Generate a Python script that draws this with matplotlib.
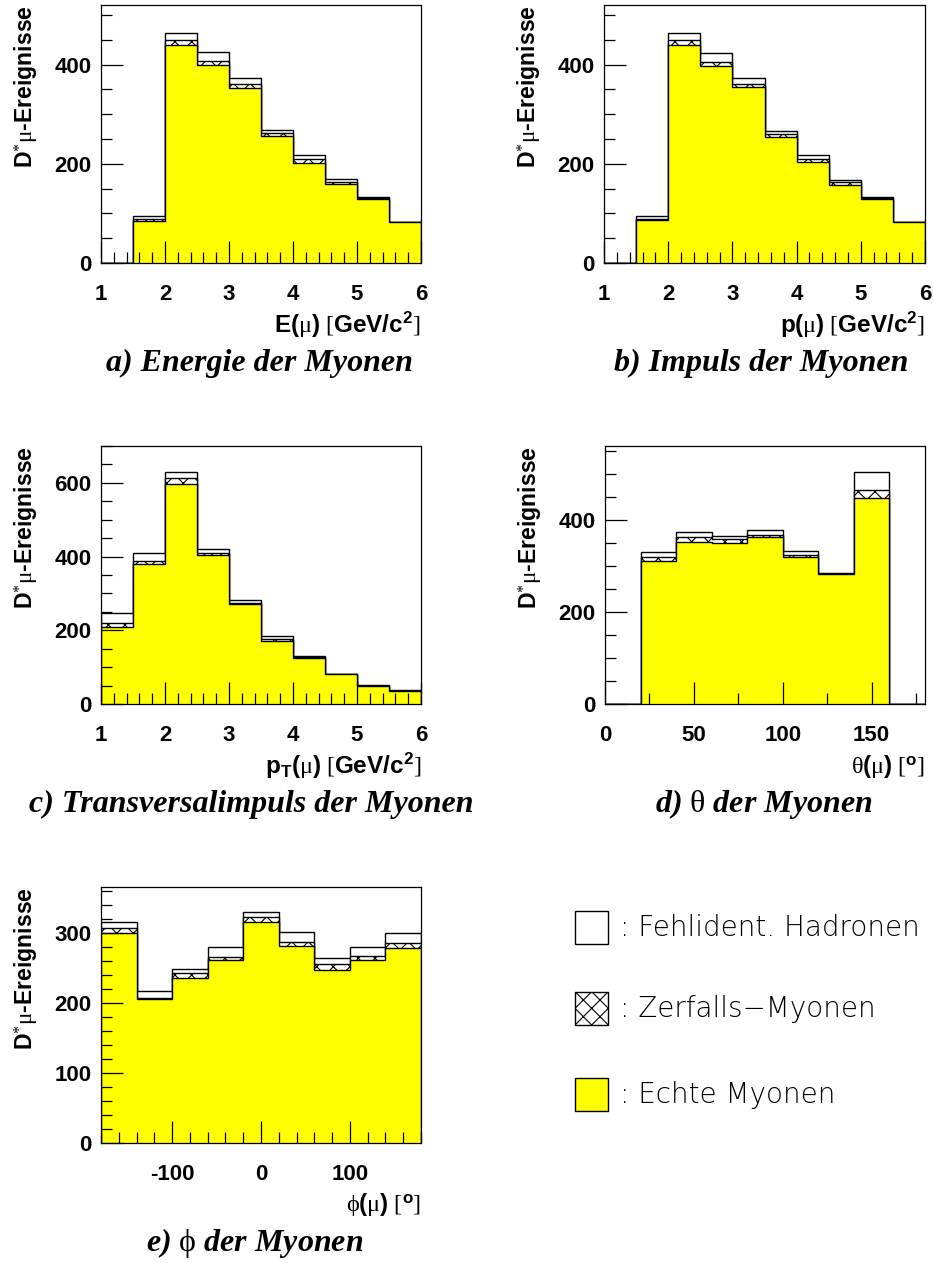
import numpy as np
import matplotlib
matplotlib.use('Agg')
import matplotlib.pyplot as plt
from matplotlib.ticker import MultipleLocator
from matplotlib.patches import Rectangle

plt.rcParams['font.family'] = ['Liberation Sans', 'DejaVu Sans']
plt.rcParams['font.weight'] = 'bold'
plt.rcParams['axes.unicode_minus'] = False
plt.rcParams['mathtext.fontset'] = 'custom'
plt.rcParams['mathtext.rm'] = 'Liberation Serif:weight=normal'
plt.rcParams['mathtext.bf'] = 'Liberation Sans:bold'
plt.rcParams['mathtext.it'] = 'Liberation Serif:italic:weight=normal'
plt.rcParams['hatch.linewidth'] = 0.8

# ---------------- data (counts per bin) ----------------
# a) Energie
edges_E = np.linspace(1, 6, 11)
echte_E = np.array([0, 85, 440, 399, 353, 256, 202, 160, 128, 83])
zerf_E = np.array([0, 4, 10, 8, 7, 6, 7, 4, 3, 0])
fehl_E = np.array([0, 5, 14, 19, 12, 6, 9, 6, 3, 0])

# b) Impuls
edges_p = np.linspace(1, 6, 11)
echte_p = np.array([0, 86, 440, 397, 354, 254, 204, 158, 128, 83])
zerf_p = np.array([0, 3, 10, 9, 6, 6, 6, 5, 3, 0])
fehl_p = np.array([0, 6, 14, 18, 12, 7, 8, 5, 3, 0])

# c) Transversalimpuls
edges_pt = np.linspace(1, 6, 11)
echte_pt = np.array([210, 379, 596, 405, 271, 172, 125, 81, 49, 34])
zerf_pt = np.array([11, 9, 18, 6, 4, 5, 3, 0, 1, 1])
fehl_pt = np.array([26, 23, 15, 9, 6, 8, 3, 0, 2, 2])

# d) theta
edges_th = np.linspace(0, 180, 10)
echte_th = np.array([0, 311, 351, 349, 362, 320, 283, 447, 0])
zerf_th = np.array([0, 9, 11, 10, 5, 3, 0, 18, 0])
fehl_th = np.array([0, 10, 11, 6, 10, 10, 2, 39, 0])

# e) phi
edges_ph = np.linspace(-180, 180, 10)
echte_ph = np.array([300, 206, 235, 261, 315, 281, 246, 261, 278])
zerf_ph = np.array([6, 1, 7, 4, 7, 6, 9, 6, 7])
fehl_ph = np.array([9, 10, 6, 15, 7, 14, 9, 13, 14])

legend_labels = [': Fehlident. Hadronen', ': Zerfalls\u2212Myonen', ': Echte Myonen']

YLAB = r"D$^{*}\mathrm{\mu}$-Ereignisse"
GEV = r"\ \mathrm{[}\mathbf{GeV/c^{2}}\mathrm{]}$"
DEG = r"\ \mathrm{[}^{\mathbf{o}}\mathrm{]}$"
YELLOW = '#ffff00'
HATCH = 'xx'

W, H = 933, 1263
fig = plt.figure(figsize=(W / 100, H / 100), dpi=100)


def px_axes(left, top, right, bottom):
    return fig.add_axes([left / W, 1 - bottom / H, (right - left) / W, (bottom - top) / H])


def draw_panel(ax, edges, echte, zerf, fehl, ymax, ymaj, ymin, xmaj, xmin,
               xtitle, caption, cap_x=0.5):
    hatch_top = echte + zerf
    total = hatch_top + fehl
    ax.stairs(total, edges, fill=True, facecolor='white', edgecolor='black', lw=1.0)
    ax.stairs(hatch_top, edges, fill=True, facecolor='white', edgecolor='black',
              hatch=HATCH, lw=1.0)
    ax.stairs(echte, edges, fill=True, facecolor=YELLOW, edgecolor='black', lw=1.0)

    ax.set_xlim(edges[0], edges[-1])
    ax.set_ylim(0, ymax)
    ax.xaxis.set_major_locator(MultipleLocator(xmaj))
    ax.xaxis.set_minor_locator(MultipleLocator(xmin))
    ax.yaxis.set_major_locator(MultipleLocator(ymaj))
    ax.yaxis.set_minor_locator(MultipleLocator(ymin))
    ax.tick_params(which='both', direction='in', top=False, right=False, width=0.9)
    ax.tick_params(which='major', length=16, labelsize=16)
    ax.tick_params(which='minor', length=8)
    ax.tick_params(axis='x', pad=15)
    ax.tick_params(axis='y', pad=7)
    for s in ax.spines.values():
        s.set_linewidth(0.9)

    h = ax.get_position().height * H
    ax.set_ylabel(YLAB, fontsize=16.6, fontweight='bold', loc='top')
    ax.yaxis.set_label_coords(-60 / 320, 1.0)
    ax.set_xlabel(xtitle, fontsize=17.5, fontweight='bold', loc='right', va='center')
    ax.xaxis.set_label_coords(1.0, -62 / h)
    ax.text(cap_x, -100 / h, caption, transform=ax.transAxes, ha='center', va='center',
            family='Liberation Serif', style='italic', weight='bold', fontsize=23)


ax_a = px_axes(101, 5, 421, 263)
draw_panel(ax_a, edges_E, echte_E, zerf_E, fehl_E, 520, 200, 50, 1, 0.2,
           r"$\mathbf{E(}\mathrm{\mu}\mathbf{)}" + GEV, "a) Energie der Myonen", 0.495)

ax_b = px_axes(604, 5, 925, 263)
draw_panel(ax_b, edges_p, echte_p, zerf_p, fehl_p, 520, 200, 50, 1, 0.2,
           r"$\mathbf{p(}\mathrm{\mu}\mathbf{)}" + GEV, "b) Impuls der Myonen", 0.49)

ax_c = px_axes(101, 446, 421, 704)
draw_panel(ax_c, edges_pt, echte_pt, zerf_pt, fehl_pt, 700, 200, 50, 1, 0.2,
           r"$\mathbf{p_{T}(}\mathrm{\mu}\mathbf{)}" + GEV,
           "c) Transversalimpuls der Myonen", 0.47)

ax_d = px_axes(605, 446, 925, 704)
draw_panel(ax_d, edges_th, echte_th, zerf_th, fehl_th, 560, 200, 50, 50, 25,
           r"$\mathrm{\theta}\mathbf{(}\mathrm{\mu}\mathbf{)}" + DEG,
           r"d) $\mathrm{\theta}$ der Myonen", 0.495)

ax_e = px_axes(101, 887, 421, 1143)
draw_panel(ax_e, edges_ph, echte_ph, zerf_ph, fehl_ph, 365, 100, 20, 100, 20,
           r"$\mathrm{\phi}\mathbf{(}\mathrm{\mu}\mathbf{)}" + DEG,
           r"e) $\mathrm{\phi}$ der Myonen", 0.48)

# ---------------- legend (drawn in pixel space) ----------------
lax = fig.add_axes([0, 0, 1, 1])
lax.set_xlim(0, W)
lax.set_ylim(H, 0)
lax.axis('off')
legend_styles = [dict(facecolor='white'),
                 dict(facecolor='white', hatch=HATCH),
                 dict(facecolor=YELLOW)]
legend_tops = [911, 991.67, 1078]
for lab, st, y0 in zip(legend_labels, legend_styles, legend_tops):
    lax.add_patch(Rectangle((575, y0), 33.33, 33.33, edgecolor='black', lw=1.0, **st))
    lax.text(620, y0 + 17, lab, ha='left', va='center', fontsize=20,
             family='DejaVu Sans', weight='light', color='black')

fig.savefig('out.png', dpi=100)
